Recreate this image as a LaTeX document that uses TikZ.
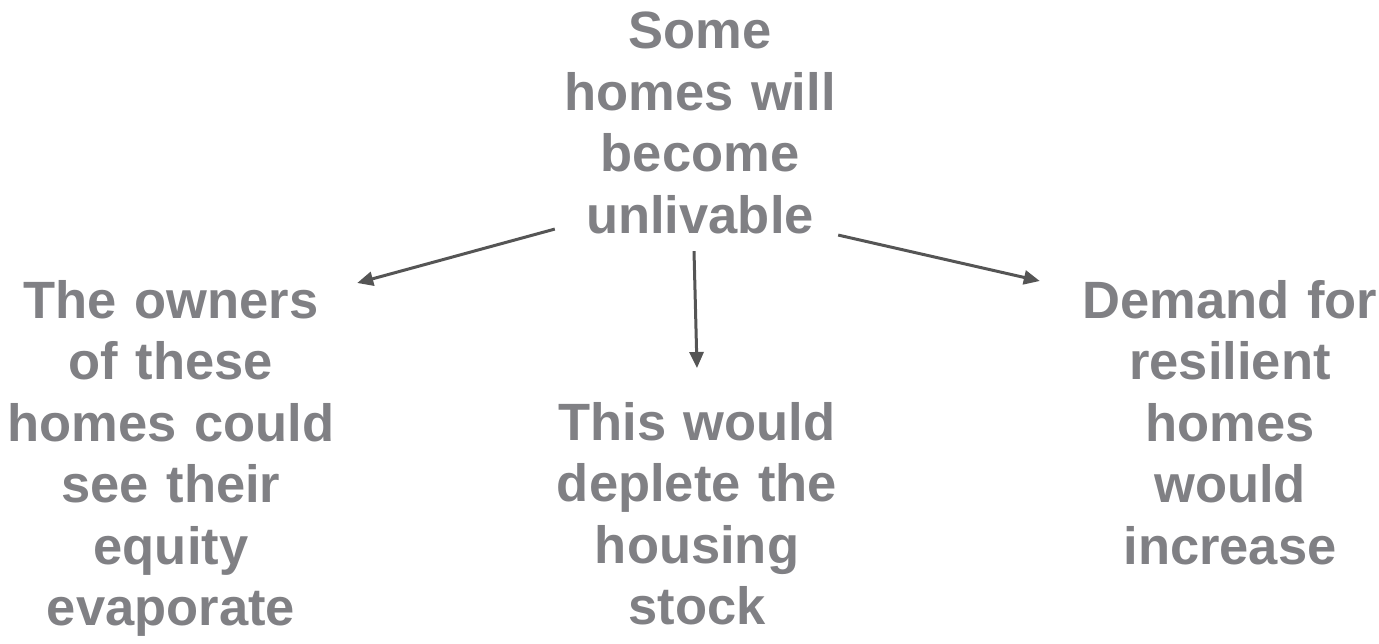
\documentclass[tikz,border=0pt]{standalone}
\usepackage{fontspec}
\setmainfont{Liberation Sans}
\usetikzlibrary{arrows.meta}
\definecolor{txtgray}{RGB}{128,128,132}
\definecolor{arrgray}{RGB}{85,85,85}
\tikzset{
  lbl/.style={font=\bfseries\fontsize{52.5}{61.5}\selectfont, text=txtgray, align=center, inner sep=0pt, anchor=north},
  arr/.style={draw=arrgray, line width=3pt, -{Triangle[length=16pt,width=14pt]}}
}
\begin{document}
\begin{tikzpicture}[x=1pt,y=1pt]
\useasboundingbox (0,0) rectangle (1379,-644);
\node[lbl, text width=280pt] (top) at (700,-12) {Some\\homes will\\become\\unlivable};
\node[lbl, text width=340pt] (left) at (171,-280) {The owners\\of these\\homes could\\see their\\equity\\evaporate};
\node[lbl, text width=300pt] (mid) at (697,-402) {This would\\deplete the\\housing\\stock};
\node[lbl, text width=300pt] (right) at (1230,-280) {Demand for\\resilient\\homes\\would\\increase};
\draw[arr] ([shift={(-5pt,5pt)}]top.south west) -- ([shift={(16pt,-3pt)}]left.north east);
\draw[arr] ([shift={(-2pt,-1pt)}]top.south east) -- ([shift={(-40pt,-1pt)}]right.north west);
\draw[arr] ([shift={(-6pt,-17pt)}]top.south) -- ([shift={(0pt,34pt)}]mid.north);
\end{tikzpicture}
\end{document}
